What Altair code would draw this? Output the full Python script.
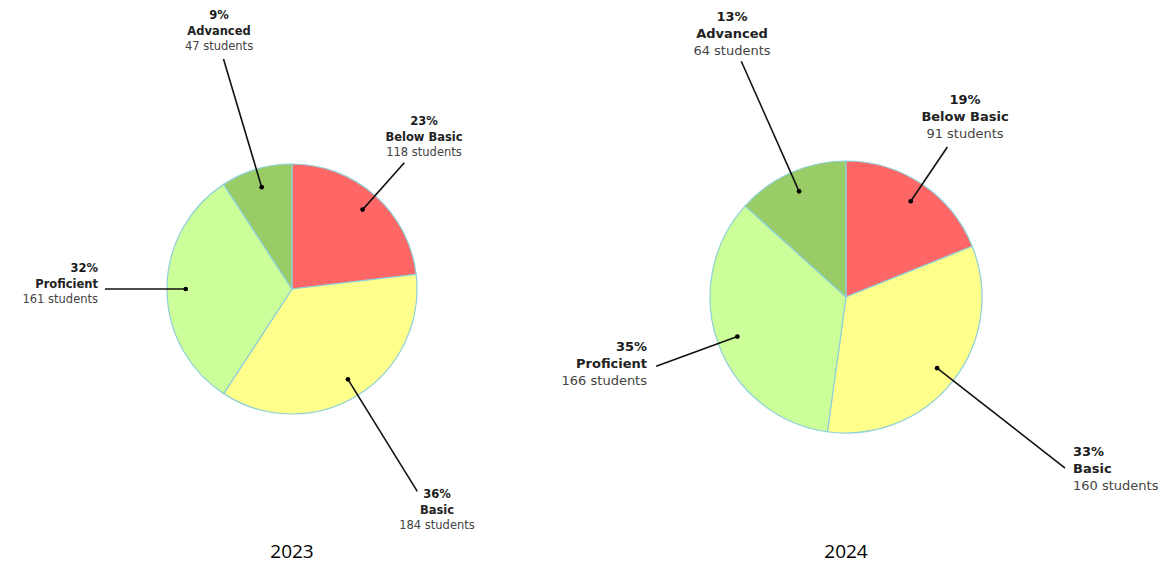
import math
import altair as alt
import pandas as pd

# ---------------- data ----------------
years = ["2023", "2024"]
categories = ["Below Basic", "Basic", "Proficient", "Advanced"]
students_2023 = [118, 184, 161, 47]
students_2024 = [91, 160, 166, 64]
colors = ["#FF6666", "#FFFF8C", "#CCFF99", "#99CC66"]

# ---------------- layout (page pixels) ----------------
W, H = 1159, 558
OFF = 8
centers = {"2023": (292, 289), "2024": (846, 297)}
radii = {"2023": 125, "2024": 136}
dot_frac = 0.85
leader_r = {"2023": [169, 238, 187, 240], "2024": [181, 278, 202, 258]}
label_pos = {
    "2023": [(424, 122, "center"), (437, 495, "center"), (98, 269, "right"), (219, 16, "center")],
    "2024": [(965, 100, "center"), (1073, 452, "left"), (647, 347, "right"), (732, 17, "center")],
}
line_gap = {"2023": 15.5, "2024": 17}
font_size = {"2023": 11.5, "2024": 13}

counts = {"2023": students_2023, "2024": students_2024}

arc_rows, rule_rows, text_rows = [], [], []
for yr in years:
    vals = counts[yr]
    tot = sum(vals)
    cx, cy = centers[yr]
    R = radii[yr]
    acc = 0.0
    for i, (cat, v) in enumerate(zip(categories, vals)):
        f0 = acc / tot
        acc += v
        f1 = acc / tot
        arc_rows.append(dict(year=yr, category=cat, t0=f0, t1=f1,
                             cx=cx - OFF, cy=cy - OFF, R=R))
        mid = (f0 + f1) / 2 * 2 * math.pi
        rd = R * dot_frac
        rl = leader_r[yr][i]
        x1 = cx + rd * math.sin(mid) - OFF
        y1 = cy - rd * math.cos(mid) - OFF
        x2 = cx + rl * math.sin(mid) - OFF
        y2 = cy - rl * math.cos(mid) - OFF
        rule_rows.append(dict(x=x1, y=y1, x2=x2, y2=y2))
        lx, ly, al = label_pos[yr][i]
        pct = f"{round(v / tot * 100)}%"
        lines = [(pct, "bold", "#1a1a1a"), (cat, "bold", "#222222"),
                 (f"{v} students", "normal", "#444444")]
        for k, (t, wgt, col) in enumerate(lines):
            text_rows.append(dict(x=lx - OFF, y=ly + k * line_gap[yr] - OFF, text=t,
                                  align=al, weight=wgt, tc=col, fs=font_size[yr]))

arc_df = pd.DataFrame(arc_rows)
rule_df = pd.DataFrame(rule_rows)
text_df = pd.DataFrame(text_rows)
title_df = pd.DataFrame(dict(text=years,
                             x=[centers[y][0] - OFF for y in years],
                             y=[552 - OFF, 552 - OFF]))

xs = alt.Scale(domain=[0, W], nice=False, zero=False)
ys = alt.Scale(domain=[0, H], nice=False, zero=False, reverse=True)

pies = alt.Chart(arc_df).mark_arc(stroke="#8fd0d8", strokeWidth=1.2).encode(
    x=alt.X("cx:Q", scale=xs, axis=None),
    y=alt.Y("cy:Q", scale=ys, axis=None),
    theta=alt.Theta("t0:Q", scale=alt.Scale(domain=[0, 1], range=[0, 2 * math.pi])),
    theta2="t1:Q",
    radius=alt.Radius("R:Q", scale=None),
    color=alt.Color("category:N", scale=alt.Scale(domain=categories, range=colors), legend=None),
)

rules = alt.Chart(rule_df).mark_rule(color="#111111", strokeWidth=1.6).encode(
    x=alt.X("x:Q", scale=xs, axis=None), y=alt.Y("y:Q", scale=ys, axis=None),
    x2="x2:Q", y2="y2:Q",
)
dots = alt.Chart(rule_df).mark_point(filled=True, color="#000000", size=22, opacity=1).encode(
    x=alt.X("x:Q", scale=xs, axis=None), y=alt.Y("y:Q", scale=ys, axis=None),
)

layers = [pies, rules, dots]
for (al, wgt), sub in text_df.groupby(["align", "weight"]):
    layers.append(
        alt.Chart(sub).mark_text(align=al, baseline="middle", fontWeight=wgt,
                                 font="DejaVu Sans").encode(
            x=alt.X("x:Q", scale=xs, axis=None), y=alt.Y("y:Q", scale=ys, axis=None),
            text="text:N",
            size=alt.Size("fs:Q", scale=None),
            color=alt.Color("tc:N", scale=None),
        )
    )

titles = alt.Chart(title_df).mark_text(align="center", baseline="middle", fontSize=19,
                                       font="Open Sans", color="#000000").encode(
    x=alt.X("x:Q", scale=xs, axis=None), y=alt.Y("y:Q", scale=ys, axis=None),
    text="text:N",
)
layers.append(titles)

chart = alt.layer(*layers).properties(
    width=W, height=H, padding=0, autosize=alt.AutoSizeParams(type="none"),
    background="#ffffff",
).configure_view(stroke=None)

chart.save("out.html", embed_options={"renderer": "svg", "actions": False})
